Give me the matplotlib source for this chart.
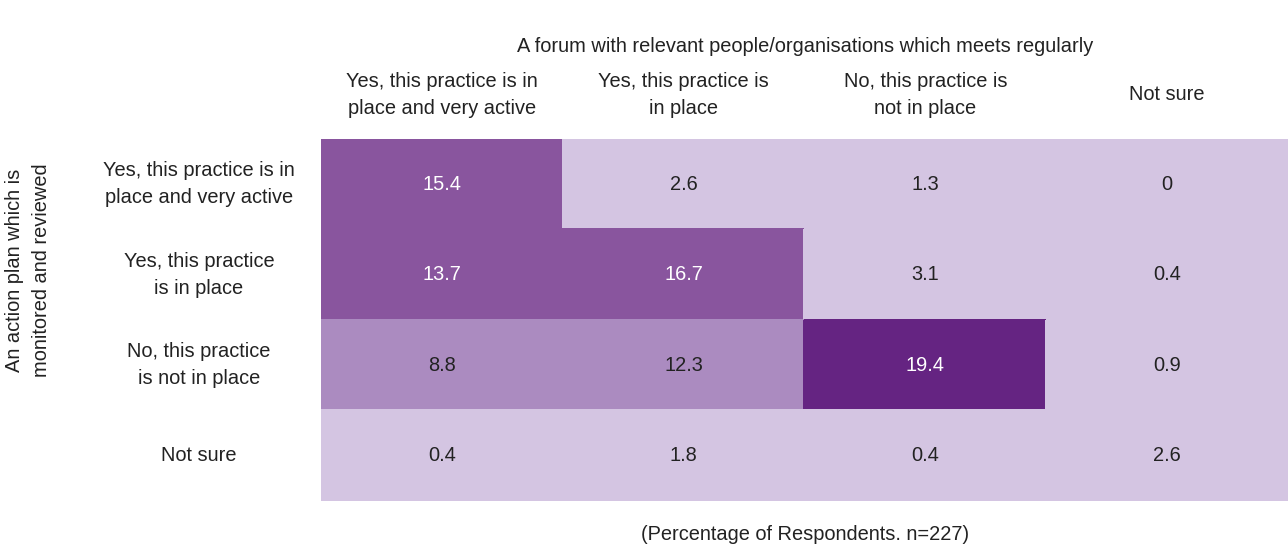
import numpy as np
import matplotlib.pyplot as plt
from matplotlib.colors import ListedColormap, BoundaryNorm

plt.rcParams['font.family'] = ['Liberation Sans', 'DejaVu Sans']

col_labels = ["Yes, this practice is in\nplace and very active",
              "Yes, this practice is\nin place",
              "No, this practice is\nnot in place",
              "Not sure"]
row_labels = ["Yes, this practice is in\nplace and very active",
              "Yes, this practice\nis in place",
              "No, this practice\nis not in place",
              "Not sure"]
values = np.array([
    [15.4, 2.6, 1.3, 0.0],
    [13.7, 16.7, 3.1, 0.4],
    [8.8, 12.3, 19.4, 0.9],
    [0.4, 1.8, 0.4, 2.6],
])

# binned colour scale
bins = [0, 5, 13, 19, 25]
colours = ['#d4c5e2', '#ab8bc0', '#89559e', '#652482']
cmap = ListedColormap(colours)
norm = BoundaryNorm(bins, cmap.N)

fs = 14.4
tc = '#222222'

fig = plt.figure(figsize=(12.88, 5.48), dpi=100)
ax = fig.add_axes([0.2492, 0.0858, 0.7508, 0.6606])
ax.pcolormesh(values, cmap=cmap, norm=norm, edgecolor='face', linewidth=0.3)
ax.set_xlim(0, 4)
ax.set_ylim(4, 0)
for s in ax.spines.values():
    s.set_visible(False)
ax.set_xticks([])
ax.set_yticks([])

for i in range(4):
    for j in range(4):
        v = values[i, j]
        txt = '0' if v == 0 else f'{v:.1f}'
        c = 'white' if v >= 13 else tc
        ax.text(j + 0.5, i + 0.5, txt, ha='center', va='center', fontsize=fs, color=c)

for j, lab in enumerate(col_labels):
    ax.text(j + 0.5, -0.49, lab, ha='center', va='center', fontsize=fs,
            color=tc, linespacing=1.55)
for i, lab in enumerate(row_labels):
    ax.text(-0.505, i + 0.5, lab, ha='center', va='center', fontsize=fs,
            color=tc, linespacing=1.55)

fig.text(0.625, 1 - 47 / 548, "A forum with relevant people/organisations which meets regularly",
         ha='center', va='center', fontsize=fs, color=tc)
fig.text(0.625, 1 - 535 / 548, "(Percentage of Respondents. n=227)",
         ha='center', va='center', fontsize=fs, color=tc)
fig.text(28 / 1288, 1 - 270 / 548, "An action plan which is\nmonitored and reviewed",
         ha='center', va='center', rotation=90, fontsize=fs, color=tc,
         linespacing=1.5)

fig.savefig('out.png', dpi=100)
